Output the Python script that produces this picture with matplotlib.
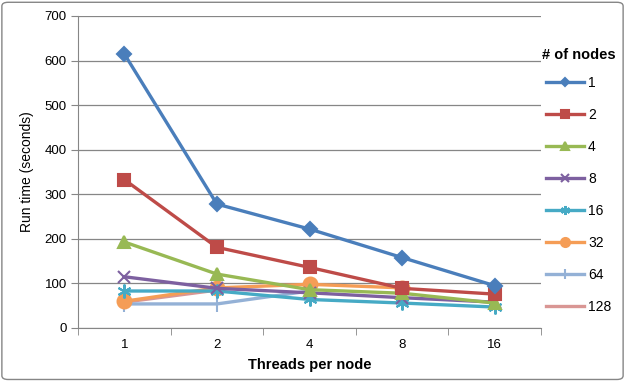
import numpy as np
import matplotlib
matplotlib.use("Agg")
import matplotlib.pyplot as plt
from matplotlib.patches import FancyBboxPatch

plt.rcParams['font.family'] = ['Liberation Sans', 'DejaVu Sans']

threads = ['1', '2', '4', '8', '16']
nodes = ['1', '2', '4', '8', '16', '32', '64', '128']
# run times per node count (None = no run)
runtimes = {
    '1':   [615, 278, 222, 158, 95],
    '2':   [333, 181, 136, 89, 76],
    '4':   [193, 121, 86, 78, 56],
    '8':   [115, 89, 79, 68, 58],
    '16':  [83, 83, 64, 56, 47],
    '32':  [60, 90, 98, 90, None],
    '64':  [54, 54, 83, None, None],
    '128': [58, 85, None, None, None],
}
colors = ['#4A7EBB', '#BE4B48', '#98B954', '#7D60A0', '#46AAC5', '#F59D56', '#94B1D6', '#D99694']
markers = ['D', 's', '^', 'x', (6, 2, 0), 'o', '|', None]
msizes = [7, 9, 9, 9, 10, 10, 12, 0]

fig = plt.figure(figsize=(6.25, 3.81), dpi=100)
ax = fig.add_axes([78/625, 1-328/381, (541-78)/625, (328-16)/381])

x = np.arange(len(threads))
for i, n in enumerate(nodes):
    vals = runtimes[n]
    xs = [xx for xx, v in zip(x, vals) if v is not None]
    ys = [v for v in vals if v is not None]
    ax.plot(xs, ys, color=colors[i], lw=2.4, marker=markers[i], ms=msizes[i],
            mew=1.5, mec=colors[i], mfc=colors[i], label=n, zorder=3+ (len(nodes)-i)*0.01)

ax.set_xlim(-0.5, 4.5)
ax.set_ylim(0, 700)
ax.set_yticks(range(0, 701, 100))
ax.set_xticks(x)
ax.set_xticklabels(threads)
ax.set_xticks(np.arange(-0.5, 4.6, 1), minor=True)
ax.tick_params(axis='x', which='major', length=0, pad=8, labelsize=9.5)
ax.tick_params(axis='x', which='minor', length=5, color='#868686')
ax.tick_params(axis='y', length=5, color='#868686', labelsize=9.5, pad=3)
ax.grid(axis='y', color='#868686', lw=0.9)
ax.set_axisbelow(True)
for s in ['top', 'right']:
    ax.spines[s].set_visible(False)
for s in ['left', 'bottom']:
    ax.spines[s].set_color('#868686')

ax.set_xlabel('Threads per node', fontsize=10.5, fontweight='bold', labelpad=5)
ax.set_ylabel('Run time (seconds)', fontsize=10, labelpad=8)

leg = ax.legend(title='# of nodes', loc='upper left', bbox_to_anchor=(0.99, 0.915),
                frameon=False, fontsize=10, handlelength=2.7, labelspacing=1.3,
                handletextpad=0.3, borderaxespad=0, markerscale=0.65)
leg.get_title().set_fontweight('bold')
leg.get_title().set_fontsize(10.5)
leg._legend_box.sep = 10

fig.patches.append(FancyBboxPatch((0.003, 0.004), 0.994, 0.99, boxstyle='round,pad=0,rounding_size=0.01',
                                  transform=fig.transFigure, fill=False, ec='#868686', lw=1))

fig.savefig('out.png', dpi=100)
